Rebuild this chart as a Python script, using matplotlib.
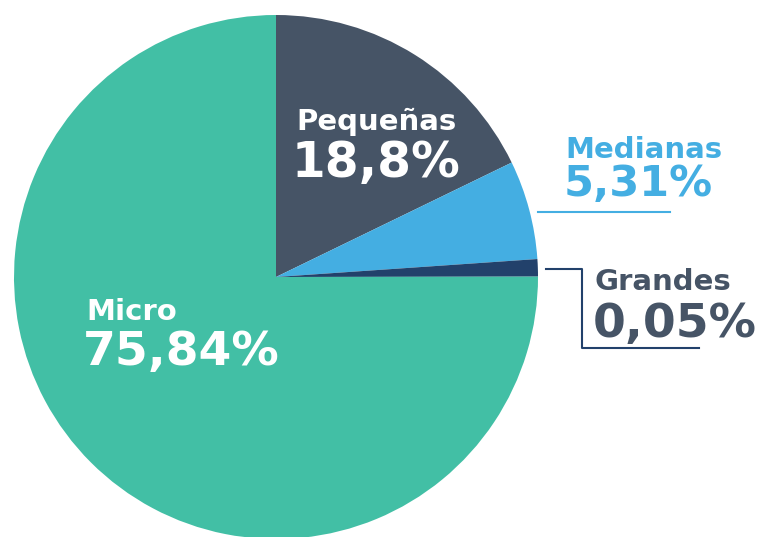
import matplotlib.pyplot as plt

# sector sizes as drawn (the chart is not to scale), labels as printed
categories = ['Pequeñas', 'Medianas', 'Grandes', 'Micro']
sizes = [17.8, 6.1, 1.07, 75.0]
labels_pct = ['18,8%', '5,31%', '0,05%', '75,84%']
colors = ['#465466', '#44AEE2', '#22416B', '#42BFA5']

H = 537
fig = plt.figure(figsize=(7.7, 5.37), dpi=100)
ax = fig.add_axes([0, 0, 1, 1])

ax.pie(sizes, colors=colors, startangle=90, counterclock=False,
       center=(276, H - 277), radius=262, frame=True,
       wedgeprops=dict(linewidth=0))
ax.set_xlim(0, 770)
ax.set_ylim(0, H)
ax.set_aspect('equal')
ax.axis('off')

fam = ['DejaVu Sans']

def label(x, y1, x2, y2, name, pct, color, s2):
    ax.text(x, H - y1, name, color=color, fontsize=21, fontweight='bold',
            family=fam, ha='left', va='baseline')
    ax.text(x2, H - y2, pct, color=color, fontsize=s2, fontweight='bold',
            family=fam, ha='left', va='baseline')

label(296, 130, 292, 177, categories[0], labels_pct[0], 'white', 35)
label(565, 158, 564, 196, categories[1], labels_pct[1], '#44AEE2', 31)
label(595, 290, 593, 337, categories[2], labels_pct[2], '#465466', 34)
label(86, 320, 83, 365, categories[3], labels_pct[3], 'white', 34)

# leader lines
ax.plot([538, 670], [H - 212, H - 212], color='#44AEE2', lw=1.5)
ax.plot([546, 582, 582, 699], [H - 269, H - 269, H - 348, H - 348],
        color='#22416B', lw=1.5)

fig.savefig('out.png', dpi=100)
